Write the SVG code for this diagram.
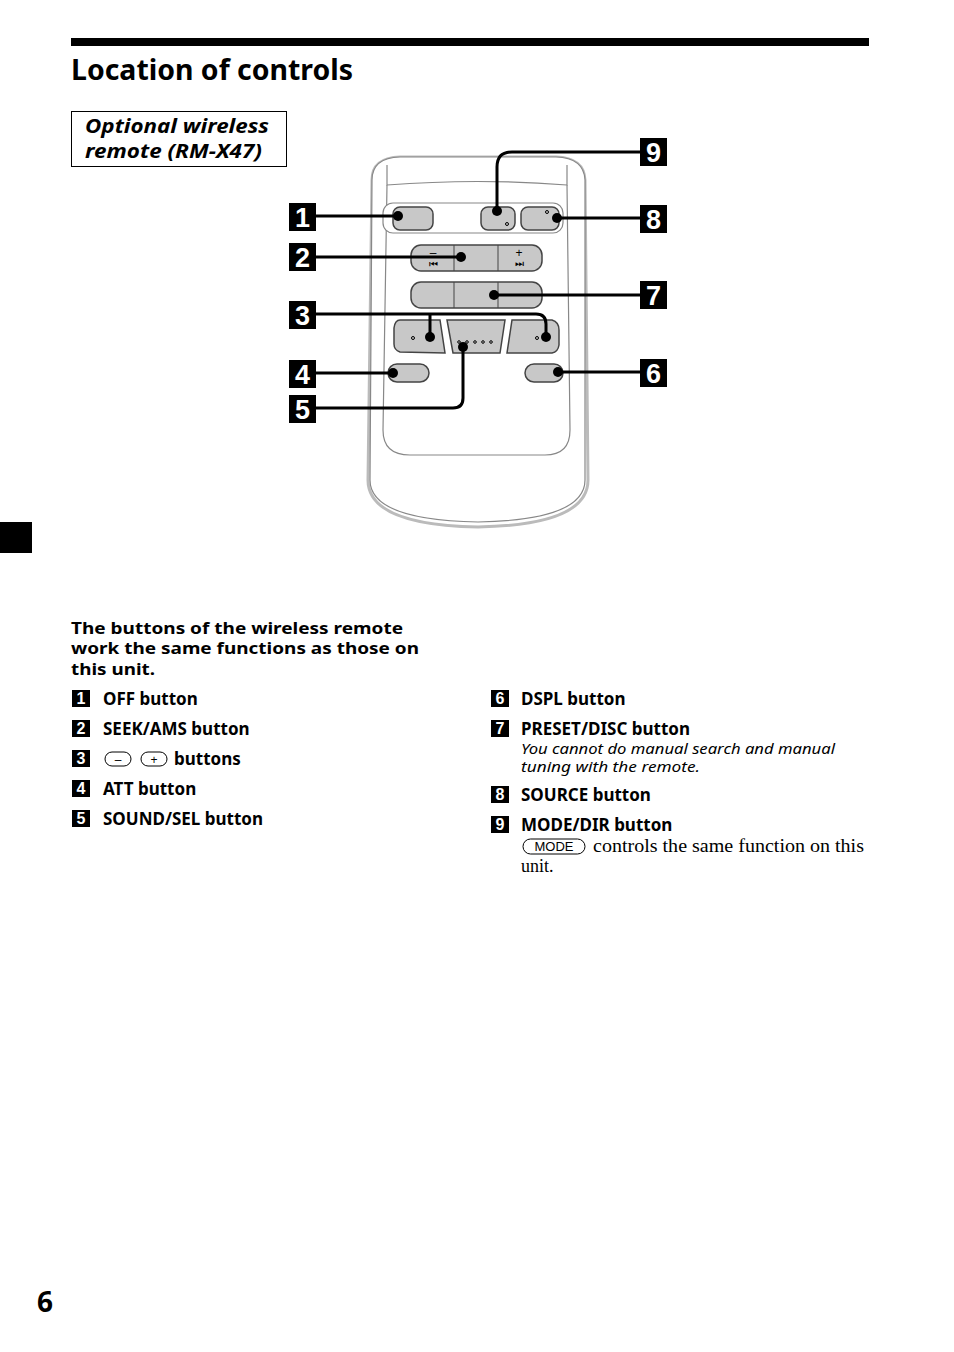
<svg xmlns="http://www.w3.org/2000/svg" width="954" height="1352" viewBox="0 0 954 1352">
<style>
.t{font-family:"Noto Sans","Open Sans",sans-serif;font-weight:bold;font-size:17px;fill:#000}
.h{font-family:"Noto Sans","Open Sans",sans-serif;font-weight:bold;font-size:16.5px;fill:#000}
.i{font-family:"Noto Sans","Open Sans",sans-serif;font-style:italic;font-size:15px;fill:#000}
.s{font-family:"Liberation Serif",serif;font-size:18px;fill:#000}
.lb{font-family:"Liberation Sans",Arial,sans-serif;font-weight:bold;font-size:27px;fill:#fff}
.nb{font-family:"Liberation Sans",Arial,sans-serif;font-weight:bold;font-size:16px;fill:#fff}
.btn{fill:#c8c8c8;stroke:#444;stroke-width:1.5}
.ln{fill:none;stroke:#000;stroke-width:3}
</style>
<rect width="954" height="1352" fill="#fff"/>
<rect x="71" y="38" width="798" height="8" fill="#000"/>
<text x="71" y="80" font-family="Noto Sans,sans-serif" font-weight="bold" font-size="29" textLength="282" lengthAdjust="spacingAndGlyphs">Location of controls</text>
<rect x="71.5" y="111.5" width="215" height="55" fill="none" stroke="#000" stroke-width="1"/>
<text x="85" y="133" font-family="Noto Sans,sans-serif" font-weight="bold" font-style="italic" font-size="19" textLength="184" lengthAdjust="spacingAndGlyphs">Optional wireless</text>
<text x="85" y="158" font-family="Noto Sans,sans-serif" font-weight="bold" font-style="italic" font-size="19" textLength="177" lengthAdjust="spacingAndGlyphs">remote (RM-X47)</text>
<rect x="0" y="522" width="32" height="31" fill="#000"/>
<g id="remote">
<path d="M372,180 Q372,158 400,157 L556,157 Q584,158 585,180 L588,480 Q588,525 478,527 Q368,525 368,480 Z" fill="#fff" stroke="#bbb" stroke-width="3"/>
<path d="M372,180 Q372,158 400,157 L556,157 Q584,158 585,180 L585,480 Q585,520 478,522 Q370,520 370,480 Z" fill="#fff" stroke="#888" stroke-width="1.2"/>
<path d="M387,165 L387,185 Q478,178 567,185 L567,165" fill="none" stroke="#888" stroke-width="1.2"/>
<path d="M387,185 L383,430 Q383,455 410,455 L545,455 Q570,455 570,430 L567,185" fill="none" stroke="#888" stroke-width="1.2"/>
<rect x="383" y="203" width="180" height="30" rx="10" fill="#fff" stroke="#888" stroke-width="1.2"/>
</g>
<g id="btn-off"><rect x="393" y="207" width="40" height="23" rx="7" class="btn"/></g>
<g id="btn-mode"><rect x="481" y="207" width="34" height="23" rx="7" class="btn"/><circle cx="507" cy="224" r="1.5" fill="none" stroke="#000"/></g>
<g id="btn-source"><rect x="521" y="207" width="38" height="23" rx="7" class="btn"/><circle cx="547" cy="212" r="1.5" fill="none" stroke="#000"/></g>
<g id="btn-seek"><rect x="411" y="245" width="131" height="26" rx="10" class="btn"/>
<line x1="454" y1="245" x2="454" y2="271" stroke="#444"/><line x1="498" y1="245" x2="498" y2="271" stroke="#444"/>
<text x="433" y="257" text-anchor="middle" font-family="Liberation Sans,sans-serif" font-size="12">–</text>
<text x="433" y="267" text-anchor="middle" font-family="DejaVu Sans,sans-serif" font-size="10">⏮</text>
<text x="519" y="257" text-anchor="middle" font-family="Liberation Sans,sans-serif" font-size="12">+</text>
<text x="519" y="267" text-anchor="middle" font-family="DejaVu Sans,sans-serif" font-size="10">⏭</text></g>
<g id="btn-preset"><rect x="411" y="282" width="131" height="26" rx="10" class="btn"/>
<line x1="454" y1="282" x2="454" y2="308" stroke="#444"/><line x1="498" y1="282" x2="498" y2="308" stroke="#444"/></g>
<g id="btn-minus"><path d="M400,320 L440,320 L445,353 L400,352 Q394,350 394,344 L394,328 Q395,320 400,320 Z" class="btn"/><circle cx="413" cy="338" r="1.5" fill="none" stroke="#000"/></g>
<g id="btn-sound"><path d="M447,320 L505,320 L500,353 L453,353 Z" class="btn"/>
<g fill="none" stroke="#000"><circle cx="459" cy="342" r="1.3"/><circle cx="467" cy="342" r="1.3"/><circle cx="475" cy="342" r="1.3"/><circle cx="483" cy="342" r="1.3"/><circle cx="491" cy="342" r="1.3"/></g></g>
<g id="btn-plus"><path d="M512,320 L552,320 Q559,322 559,330 L559,345 Q558,352 552,353 L507,353 Z" class="btn"/><circle cx="537" cy="338" r="1.5" fill="none" stroke="#000"/></g>
<g id="btn-att"><rect x="388" y="364" width="41" height="18" rx="9" class="btn"/></g>
<g id="btn-dspl"><rect x="525" y="364" width="38" height="18" rx="9" class="btn"/></g>
<g id="connectors">
<path class="ln" d="M316,216 H398"/><circle cx="398" cy="216" r="5"/>
<path class="ln" d="M316,257 H461"/><circle cx="461" cy="257" r="5"/>
<path class="ln" d="M316,314 H536 Q546,314 546,324 V337"/><path class="ln" d="M430,314 V337"/><circle cx="430" cy="337" r="5"/><circle cx="546" cy="337" r="5"/>
<path class="ln" d="M316,373 H393"/><circle cx="393" cy="373" r="5"/>
<path class="ln" d="M316,408 H453 Q463,408 463,398 V347"/><circle cx="463" cy="347" r="5"/>
<path class="ln" d="M640,152 H512 Q497,152 497,167 V211"/><circle cx="497" cy="211" r="5"/>
<path class="ln" d="M640,218 H557"/><circle cx="557" cy="218" r="5"/>
<path class="ln" d="M640,295 H494"/><circle cx="494" cy="295" r="5"/>
<path class="ln" d="M640,372 H558"/><circle cx="558" cy="372" r="5"/>
</g>
<g id="labels">
<rect x="289" y="203" width="27" height="28"/><text class="lb" x="302.5" y="227" text-anchor="middle">1</text>
<rect x="289" y="243" width="27" height="28"/><text class="lb" x="302.5" y="267" text-anchor="middle">2</text>
<rect x="289" y="301" width="27" height="28"/><text class="lb" x="302.5" y="325" text-anchor="middle">3</text>
<rect x="289" y="360" width="27" height="28"/><text class="lb" x="302.5" y="384" text-anchor="middle">4</text>
<rect x="289" y="395" width="27" height="28"/><text class="lb" x="302.5" y="419" text-anchor="middle">5</text>
<rect x="640" y="138" width="27" height="28"/><text class="lb" x="653.5" y="162" text-anchor="middle">9</text>
<rect x="640" y="205" width="27" height="28"/><text class="lb" x="653.5" y="229" text-anchor="middle">8</text>
<rect x="640" y="281" width="27" height="28"/><text class="lb" x="653.5" y="305" text-anchor="middle">7</text>
<rect x="640" y="359" width="27" height="28"/><text class="lb" x="653.5" y="383" text-anchor="middle">6</text>
</g>
<text class="h" x="71" y="634" textLength="332" lengthAdjust="spacingAndGlyphs">The buttons of the wireless remote</text>
<text class="h" x="71" y="654" textLength="348" lengthAdjust="spacingAndGlyphs">work the same functions as those on</text>
<text class="h" x="71" y="675" textLength="84" lengthAdjust="spacingAndGlyphs">this unit.</text>
<g id="list">
<rect x="72" y="690" width="18" height="17"/><text class="nb" x="81" y="704" text-anchor="middle">1</text><text class="t" x="103" y="705">OFF button</text>
<rect x="72" y="720" width="18" height="17"/><text class="nb" x="81" y="734" text-anchor="middle">2</text><text class="t" x="103" y="735">SEEK/AMS button</text>
<rect x="72" y="750" width="18" height="17"/><text class="nb" x="81" y="764" text-anchor="middle">3</text>
<rect x="105" y="752" width="26" height="14" rx="7" fill="none" stroke="#000"/><text x="118" y="764" text-anchor="middle" font-family="Liberation Sans,sans-serif" font-size="12">–</text>
<rect x="141" y="752" width="26" height="14" rx="7" fill="none" stroke="#000"/><text x="154" y="764" text-anchor="middle" font-family="Liberation Sans,sans-serif" font-size="12">+</text>
<text class="t" x="174" y="765">buttons</text>
<rect x="72" y="780" width="18" height="17"/><text class="nb" x="81" y="794" text-anchor="middle">4</text><text class="t" x="103" y="795">ATT button</text>
<rect x="72" y="810" width="18" height="17"/><text class="nb" x="81" y="824" text-anchor="middle">5</text><text class="t" x="103" y="825">SOUND/SEL button</text>
<rect x="491" y="690" width="18" height="17"/><text class="nb" x="500" y="704" text-anchor="middle">6</text><text class="t" x="521" y="705">DSPL button</text>
<rect x="491" y="720" width="18" height="17"/><text class="nb" x="500" y="734" text-anchor="middle">7</text><text class="t" x="521" y="735">PRESET/DISC button</text>
<text class="i" x="521" y="754" textLength="314" lengthAdjust="spacingAndGlyphs">You cannot do manual search and manual</text>
<text class="i" x="521" y="772" textLength="179" lengthAdjust="spacingAndGlyphs">tuning with the remote.</text>
<rect x="491" y="786" width="18" height="17"/><text class="nb" x="500" y="800" text-anchor="middle">8</text><text class="t" x="521" y="801">SOURCE button</text>
<rect x="491" y="816" width="18" height="17"/><text class="nb" x="500" y="830" text-anchor="middle">9</text><text class="t" x="521" y="831">MODE/DIR button</text>
<rect x="523" y="839" width="62" height="15" rx="7.5" fill="none" stroke="#000"/><text x="554" y="851" text-anchor="middle" font-family="Liberation Sans,sans-serif" font-size="13">MODE</text>
<text class="s" x="593" y="852" textLength="271" lengthAdjust="spacingAndGlyphs">controls the same function on this</text>
<text class="s" x="521" y="872">unit.</text>
</g>
<text x="37" y="1312" font-family="Noto Sans,sans-serif" font-weight="bold" font-size="28">6</text>
</svg>
